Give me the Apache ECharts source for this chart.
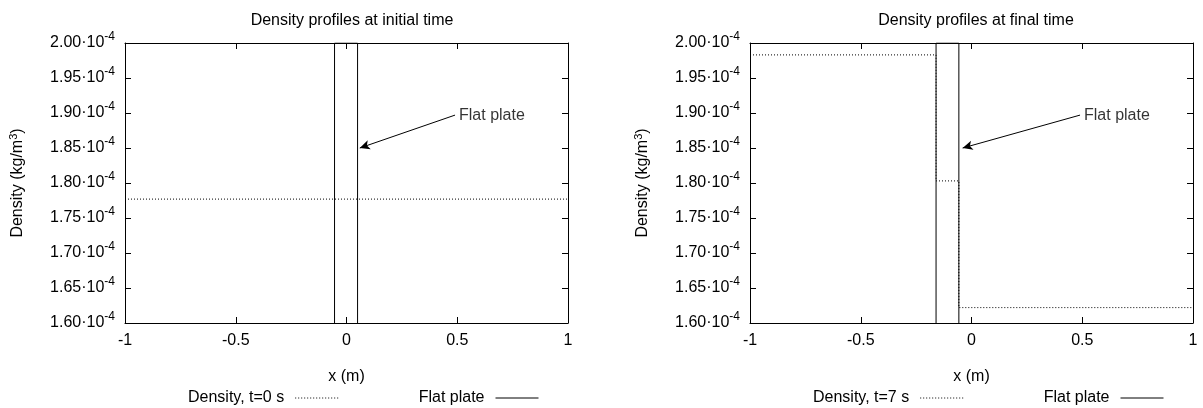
<!DOCTYPE html>
<html>
<head>
<meta charset="utf-8">
<script src="https://cdn.jsdelivr.net/npm/echarts@6/dist/echarts.min.js"></script>
<style>
  html, body { margin: 0; padding: 0; background: #fff; }
  #chart { width: 1203px; height: 408px; }
</style>
</head>
<body>
<div id="chart"></div>
<script>
// densities are in units of 1e-4 kg/m3
const xTicks = [-1, -0.5, 0, 0.5, 1];
const yTicks = [1.6, 1.65, 1.7, 1.75, 1.8, 1.85, 1.9, 1.95, 2.0];

// initial time
const densityInitX = [-1, 1];
const densityInitY = [1.777, 1.777];
const plateInitX = [-0.054, -0.054, 0.05, 0.05];
const plateInitY = [1.6, 2.0, 2.0, 1.6];

// final time (step profile)
const densityFinalX = [-1, -0.16, -0.057, 1];
const densityFinalY = [1.983, 1.803, 1.622, 1.622];
const plateFinalX = [-0.16, -0.16, -0.057, -0.057];
const plateFinalY = [1.6, 2.0, 2.0, 1.6];

// "Flat plate" arrow annotations: [tail, head]
const arrowInit = [[0.49, 1.897], [0.06, 1.85]];
const arrowFinal = [[0.49, 1.897], [-0.04, 1.85]];

const FONT = "Liberation Sans";

function zip(xs, ys) {
  return xs.map((x, i) => [x, ys[i]]);
}

const chart = echarts.init(document.getElementById("chart"));

const frame = { show: true, onZero: false, lineStyle: { color: "#000", width: 1 } };
const tick = { show: true, inside: true, length: 6, lineStyle: { color: "#000" } };

function xAxes(gridIndex) {
  const base = {
    type: "value",
    gridIndex: gridIndex,
    min: xTicks[0],
    max: xTicks[xTicks.length - 1],
    interval: xTicks[1] - xTicks[0],
    splitLine: { show: false },
    axisLine: frame,
    axisTick: tick,
  };
  return [
    Object.assign({}, base, {
      position: "bottom",
      name: "x (m)",
      nameLocation: "middle",
      nameGap: 46,
      nameTextStyle: { color: "#000", fontFamily: FONT, fontSize: 16 },
      axisLabel: { color: "#000", fontFamily: FONT, fontSize: 16, margin: 10 },
    }),
    Object.assign({}, base, { position: "top", axisLabel: { show: false } }),
  ];
}

function yAxes(gridIndex) {
  const base = {
    type: "value",
    gridIndex: gridIndex,
    min: yTicks[0],
    max: yTicks[yTicks.length - 1],
    interval: 0.05,
    splitLine: { show: false },
    axisLine: frame,
    axisTick: tick,
  };
  return [
    Object.assign({}, base, {
      position: "left",
      name: "{a|Density (kg/m}{s|3}{a|)}",
      nameLocation: "middle",
      nameGap: 97,
      nameTextStyle: {
        color: "#000",
        rich: {
          a: { fontFamily: FONT, fontSize: 16, color: "#000", lineHeight: 20 },
          s: { fontFamily: FONT, fontSize: 11, color: "#000", lineHeight: 11, verticalAlign: "top" },
        },
      },
      axisLabel: {
        margin: 10,
        formatter: function (v) {
          return "{m|" + v.toFixed(2) + "·10}{s|-4}";
        },
        rich: {
          m: { fontFamily: FONT, fontSize: 16, color: "#000", lineHeight: 24 },
          s: { fontFamily: FONT, fontSize: 12, color: "#000", lineHeight: 12, verticalAlign: "top" },
        },
      },
    }),
    Object.assign({}, base, { position: "right", axisLabel: { show: false } }),
  ];
}

function arrowSeries(name, xi, yi, arrow) {
  return {
    name: name,
    type: "scatter",
    xAxisIndex: xi,
    yAxisIndex: yi,
    symbolSize: 0,
    silent: true,
    data: [arrow[0]],
    label: {
      show: true,
      position: "right",
      distance: 4,
      formatter: "Flat plate",
      color: "#000",
      fontFamily: FONT,
      fontSize: 16,
    },
    markLine: {
      silent: true,
      symbol: ["none", "arrow"],
      symbolSize: [7, 10],
      label: { show: false },
      lineStyle: { color: "#000", width: 1, type: "solid" },
      data: [[{ coord: arrow[0] }, { coord: arrow[1] }]],
    },
  };
}

const dotted = { color: "#000", width: 1, type: [1, 2] };
const solid = { color: "#000", width: 1, type: "solid" };

function legendAt(left, names) {
  return {
    left: left,
    top: 385,
    align: "right",
    itemWidth: 43,
    itemHeight: 10,
    itemGap: 80,
    selectedMode: false,
    itemStyle: { opacity: 0 },
    lineStyle: { width: 1 },
    textStyle: { color: "#000", fontFamily: FONT, fontSize: 16, padding: [0, 6, 0, 0] },
    data: names,
  };
}

const option = {
  animation: false,
  backgroundColor: "#fff",
  title: [
    {
      text: "Density profiles at initial time",
      left: 347,
      top: 8,
      textAlign: "center",
      textStyle: { color: "#000", fontFamily: FONT, fontSize: 16, fontWeight: "normal" },
    },
    {
      text: "Density profiles at final time",
      left: 971,
      top: 8,
      textAlign: "center",
      textStyle: { color: "#000", fontFamily: FONT, fontSize: 16, fontWeight: "normal" },
    },
  ],
  legend: [
    legendAt(183, ["Density, t=0 s", "Flat plate"]),
    legendAt(808, ["Density, t=7 s", "Flat plate"]),
  ],
  grid: [
    { left: 125, top: 43, width: 443, height: 280 },
    { left: 750, top: 43, width: 443, height: 280 },
  ],
  xAxis: xAxes(0).concat(xAxes(1)),
  yAxis: yAxes(0).concat(yAxes(1)),
  series: [
    {
      name: "Density, t=0 s",
      type: "line",
      xAxisIndex: 0,
      yAxisIndex: 0,
      symbol: "none",
      lineStyle: dotted,
      itemStyle: { color: "#000" },
      data: zip(densityInitX, densityInitY),
    },
    {
      name: "Flat plate",
      type: "line",
      xAxisIndex: 0,
      yAxisIndex: 0,
      symbol: "none",
      lineStyle: solid,
      itemStyle: { color: "#000" },
      data: zip(plateInitX, plateInitY),
    },
    arrowSeries("arrow0", 0, 0, arrowInit),
    {
      name: "Density, t=7 s",
      type: "line",
      xAxisIndex: 2,
      yAxisIndex: 2,
      step: "end",
      symbol: "none",
      lineStyle: dotted,
      itemStyle: { color: "#000" },
      data: zip(densityFinalX, densityFinalY),
    },
    {
      name: "Flat plate",
      type: "line",
      xAxisIndex: 2,
      yAxisIndex: 2,
      symbol: "none",
      lineStyle: solid,
      itemStyle: { color: "#000" },
      data: zip(plateFinalX, plateFinalY),
    },
    arrowSeries("arrow1", 2, 2, arrowFinal),
  ],
};

chart.setOption(option);
</script>
</body>
</html>
